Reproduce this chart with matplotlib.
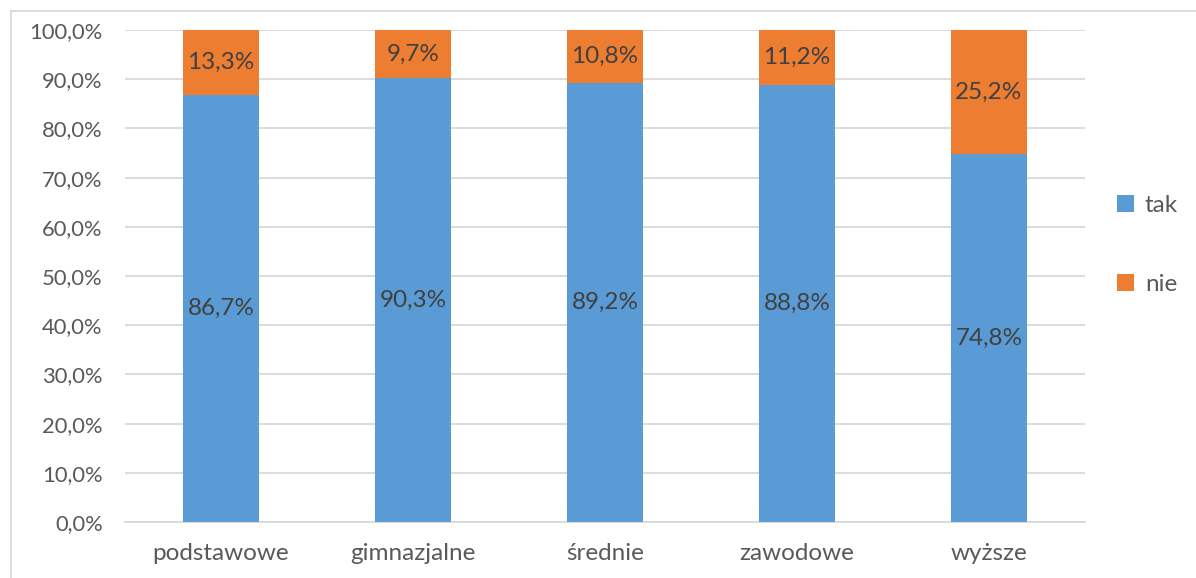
import matplotlib
matplotlib.use("Agg")
import matplotlib.pyplot as plt
from matplotlib.patches import Rectangle
from matplotlib.ticker import FuncFormatter

categories = ["podstawowe", "gimnazjalne", "średnie", "zawodowe", "wyższe"]
tak = [86.7, 90.3, 89.2, 88.8, 74.8]
nie = [13.3, 9.7, 10.8, 11.2, 25.2]

plt.rcParams['font.family'] = ['Lato', 'DejaVu Sans']

blue = "#5B9BD5"
orange = "#ED7D31"
grey = "#595959"

fig = plt.figure(figsize=(11.96, 5.78), dpi=100)
ax = fig.add_axes([125 / 1196, 1 - 522 / 578, 960 / 1196, 492 / 578])

x = range(len(categories))
b1 = ax.bar(x, tak, width=0.4, color=blue, label="tak", zorder=3)
b2 = ax.bar(x, nie, width=0.4, bottom=tak, color=orange, label="nie", zorder=3)

def pct(v):
    return f"{v:.1f}%".replace(".", ",")

for i in x:
    ax.text(i, tak[i] / 2, pct(tak[i]), ha="center", va="center",
            fontsize=17.5, color="#404040", zorder=4)
    ax.text(i, tak[i] + nie[i] / 2, pct(nie[i]), ha="center", va="center",
            fontsize=17.5, color="#404040", zorder=4)

ax.set_xlim(-0.5, len(categories) - 0.5)
ax.set_ylim(0, 100)
ax.set_yticks(range(0, 101, 10))
ax.yaxis.set_major_formatter(FuncFormatter(lambda v, p: pct(v)))
ax.set_xticks(list(x))
ax.set_xticklabels(categories)
ax.tick_params(axis="both", length=0, labelcolor=grey)
ax.tick_params(axis="x", pad=15, labelsize=17.5)
ax.tick_params(axis="y", pad=16, labelsize=15.8)
ax.grid(axis="y", color="#D9D9D9", linewidth=1.3, zorder=0)
for s in ["top", "right", "left"]:
    ax.spines[s].set_visible(False)
ax.spines["bottom"].set_color("#D9D9D9")
ax.spines["bottom"].set_linewidth(1.3)

leg = fig.legend(handles=[b1, b2], labels=["tak", "nie"], loc="center left",
                 bbox_to_anchor=(1095 / 1196, 1 - 245 / 578), frameon=False,
                 fontsize=17.5, labelcolor=grey, handlelength=0.7, handleheight=0.7,
                 labelspacing=2.4, handletextpad=0.45)

# chart area frame
fig.patches.append(Rectangle((11 / 1196, -0.01), 1.2, 1 - 11 / 578 + 0.01,
                             transform=fig.transFigure, fill=False,
                             edgecolor="#D9D9D9", linewidth=1.3))

fig.savefig("out.png", dpi=100)
